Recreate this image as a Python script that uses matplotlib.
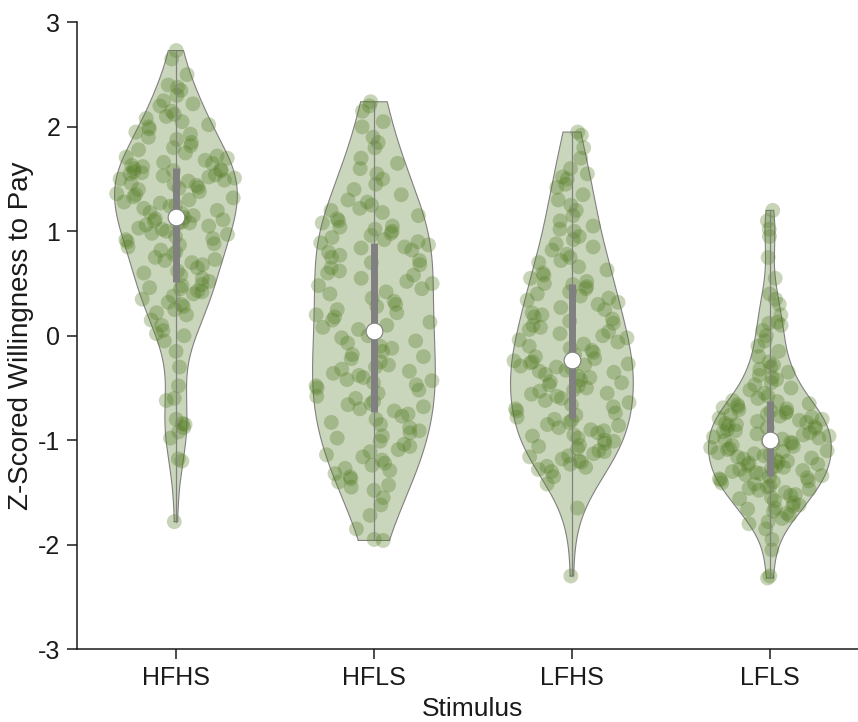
import numpy as np
import matplotlib.pyplot as plt

plt.rcParams['font.family'] = ['Liberation Sans', 'DejaVu Sans']
plt.rcParams['axes.unicode_minus'] = False

categories = ['HFHS', 'HFLS', 'LFHS', 'LFLS']

hfhs = [-1.78, -1.2, -1.18, -0.98, -0.92, -0.88, -0.85, -0.84, -0.8, -0.62, -0.6, -0.48,
        -0.3, -0.15, -0.05, 0.0, 0.02, 0.05, 0.1, 0.15, 0.2, 0.22, 0.25, 0.28, 0.3, 0.32,
        0.35, 0.38, 0.4, 0.42, 0.43, 0.45, 0.46, 0.48, 0.49,
        0.52, 0.55, 0.58, 0.6, 0.62, 0.65, 0.68, 0.7, 0.72, 0.73, 0.75, 0.78, 0.8, 0.82,
        0.85, 0.87, 0.88, 0.9, 0.92, 0.93, 0.95, 0.97, 0.98, 1.0, 1.02, 1.03, 1.05, 1.06,
        1.07, 1.08, 1.09, 1.1, 1.11, 1.12, 1.13,
        1.15, 1.17, 1.18, 1.2, 1.22, 1.24, 1.25, 1.27, 1.28, 1.3, 1.32, 1.33, 1.35, 1.36,
        1.38, 1.4, 1.41, 1.42, 1.44, 1.45, 1.46, 1.48, 1.49, 1.5, 1.51, 1.52, 1.53, 1.54,
        1.55, 1.56, 1.57, 1.58, 1.58, 1.59, 1.6,
        1.62, 1.63, 1.65, 1.66, 1.68, 1.7, 1.71, 1.72, 1.75, 1.78, 1.8, 1.82, 1.85, 1.88,
        1.9, 1.93, 1.95, 1.98, 2.0, 2.02, 2.05, 2.08, 2.1, 2.12, 2.15, 2.2, 2.22, 2.25,
        2.3, 2.35, 2.38, 2.4, 2.5, 2.65, 2.73]

hfls = [-1.96, -1.95, -1.85, -1.72, -1.62, -1.55, -1.48, -1.45, -1.43, -1.4, -1.37,
        -1.35, -1.32, -1.29, -1.27, -1.24, -1.22, -1.19, -1.16, -1.14, -1.11, -1.09, -1.06,
        -1.04, -1.01, -0.98, -0.96, -0.93, -0.91, -0.88, -0.85, -0.83, -0.8, -0.77, -0.75,
        -0.72, -0.7, -0.68, -0.66, -0.65, -0.63, -0.6, -0.58, -0.55, -0.52, -0.5, -0.48,
        -0.47, -0.45, -0.43, -0.42, -0.4, -0.38, -0.36, -0.34, -0.32, -0.3, -0.28, -0.25,
        -0.22, -0.2, -0.18, -0.15, -0.12, -0.1, -0.07, -0.05, -0.02, 0.0, 0.03,
        0.06, 0.08, 0.1, 0.13, 0.15, 0.18, 0.2, 0.22, 0.25, 0.28, 0.3, 0.33, 0.36, 0.4,
        0.42, 0.45, 0.48, 0.5, 0.52, 0.55, 0.58, 0.6, 0.62, 0.65, 0.68, 0.7, 0.72, 0.75,
        0.77, 0.8, 0.82, 0.84, 0.85, 0.87, 0.89,
        0.9, 0.92, 0.94, 0.96, 0.98, 1.0, 1.02, 1.04, 1.05, 1.08, 1.1, 1.12, 1.15, 1.18,
        1.2, 1.22, 1.25, 1.28, 1.3, 1.35, 1.4, 1.45, 1.5, 1.55, 1.6, 1.65, 1.7, 1.8, 1.85,
        1.9, 2.0, 2.05, 2.15, 2.2, 2.24]

lfhs = [-2.3, -1.65, -1.42, -1.35, -1.3, -1.28, -1.26, -1.25, -1.23, -1.21, -1.2, -1.18,
        -1.16, -1.15, -1.13, -1.11, -1.1, -1.08, -1.06, -1.05, -1.03, -1.01, -1.0, -0.98,
        -0.96, -0.95, -0.93, -0.91, -0.9, -0.88, -0.86, -0.85, -0.83, -0.81, -0.8,
        -0.78, -0.76, -0.74, -0.72, -0.7, -0.68, -0.66, -0.64, -0.62, -0.6, -0.58, -0.56,
        -0.55, -0.53, -0.52, -0.5, -0.48, -0.47, -0.45, -0.44, -0.42, -0.4, -0.39, -0.37,
        -0.35, -0.34, -0.33, -0.31, -0.3, -0.29, -0.28, -0.27, -0.26, -0.25, -0.24,
        -0.22, -0.2, -0.18, -0.16, -0.14, -0.12, -0.1, -0.08, -0.06, -0.04, -0.02, 0.0,
        0.02, 0.04, 0.06, 0.08, 0.1, 0.12, 0.14, 0.16, 0.18, 0.2, 0.22, 0.25, 0.27, 0.3,
        0.32, 0.34, 0.36, 0.38, 0.4, 0.42, 0.45, 0.47, 0.49,
        0.5, 0.52, 0.55, 0.58, 0.6, 0.63, 0.66, 0.7, 0.72, 0.75, 0.78, 0.82, 0.85, 0.88,
        0.92, 0.95, 1.0, 1.02, 1.05, 1.1, 1.15, 1.2, 1.25, 1.3, 1.35, 1.42, 1.45, 1.5,
        1.52, 1.55, 1.6, 1.7, 1.8, 1.92, 1.95]

lfls = [-2.32, -2.3, -2.05, -1.95, -1.85, -1.8, -1.78, -1.75, -1.72, -1.7, -1.68, -1.66,
        -1.65, -1.63, -1.62, -1.6, -1.58, -1.56, -1.55, -1.53, -1.52, -1.5, -1.48, -1.47,
        -1.46, -1.45, -1.44, -1.42, -1.41, -1.4, -1.39, -1.38, -1.37, -1.36, -1.35,
        -1.34, -1.33, -1.32, -1.31, -1.3, -1.29, -1.28, -1.27, -1.26, -1.25, -1.24, -1.23,
        -1.22, -1.21, -1.2, -1.19, -1.18, -1.17, -1.16, -1.15, -1.14, -1.13, -1.12, -1.11,
        -1.1, -1.09, -1.08, -1.07, -1.06, -1.05, -1.04, -1.03, -1.02, -1.01, -1.0,
        -0.99, -0.98, -0.97, -0.96, -0.95, -0.94, -0.93, -0.92, -0.91, -0.9, -0.89, -0.88,
        -0.87, -0.86, -0.85, -0.84, -0.83, -0.82, -0.81, -0.8, -0.79, -0.78, -0.77, -0.76,
        -0.75, -0.74, -0.73, -0.72, -0.71, -0.7, -0.69, -0.68, -0.66, -0.65, -0.63,
        -0.62, -0.6, -0.58, -0.55, -0.52, -0.5, -0.47, -0.45, -0.42, -0.4, -0.38, -0.35,
        -0.32, -0.3, -0.28, -0.25, -0.2, -0.15, -0.1, -0.05, 0.0, 0.05, 0.1, 0.12, 0.13,
        0.2, 0.3, 0.35, 0.4, 0.55, 0.75, 0.95, 1.02, 1.1, 1.2]

groups = [hfhs, hfls, lfhs, lfls]

green = (0.32, 0.48, 0.13)
gray = (0.5, 0.5, 0.5)
half_width = 0.31


def kde(data, grid):
    # gaussian kernel, normal-approximation bandwidth
    n = len(data)
    sig = np.median(np.abs(data - np.median(data))) / 0.6745
    bw = sig * (4 / (3 * n)) ** 0.2
    z = (grid[:, None] - data[None, :]) / bw
    return np.exp(-0.5 * z ** 2).sum(axis=1) / (n * bw * np.sqrt(2 * np.pi))


fig = plt.figure(figsize=(8.58, 7.22), dpi=100)
ax = fig.add_axes([0.0897, 0.101, 0.923, 0.868])

for k, vals in enumerate(groups):
    pos = k + 1
    d = np.asarray(vals, dtype=float)
    grid = np.linspace(d.min(), d.max(), 300)
    dens = kde(d, grid)
    w = dens / dens.max() * half_width

    ax.fill_betweenx(grid, pos - w, pos + w, facecolor=green, alpha=0.3,
                     edgecolor='none', zorder=1)
    xs = np.concatenate([pos - w, (pos + w)[::-1], [pos - w[0]]])
    ys = np.concatenate([grid, grid[::-1], [grid[0]]])
    ax.plot(xs, ys, color=gray, lw=0.8, zorder=2)

    # spread points sideways within the local violin width (quadratic Weyl sequence)
    idx = np.arange(len(d)) + 7 * k
    order = (idx * idx * np.sqrt(2) + idx * 0.5) % 1.0
    spread = np.interp(d, grid, w)
    ax.scatter(pos + (2 * order - 1) * spread, d, s=115, color=green, alpha=0.32,
               edgecolors='none', zorder=3)

    q1, med, q3 = np.percentile(d, [25, 50, 75])
    ax.plot([pos, pos], [d.min(), d.max()], color=gray, lw=0.9, zorder=4)
    ax.plot([pos, pos], [q1, q3], color=gray, lw=5, solid_capstyle='butt', zorder=5)
    ax.plot(pos, med, 'o', ms=12, mfc='white', mec=gray, mew=0.8, zorder=6)

ax.set_xlim(0.5, 4.5)
ax.set_ylim(-3, 3)
ax.set_xticks(range(1, 5))
ax.set_xticklabels(categories)
ax.set_yticks(range(-3, 4))
for s in ['top', 'right']:
    ax.spines[s].set_visible(False)
for s in ['left', 'bottom']:
    ax.spines[s].set_linewidth(1.1)
    ax.spines[s].set_color('#1a1a1a')
ax.tick_params(direction='out', length=7, width=1.1, labelsize=18, pad=5,
               colors='#1a1a1a')
ax.set_xlabel('Stimulus', fontsize=19, labelpad=5, color='#1a1a1a')
ax.set_ylabel('Z-Scored Willingness to Pay', fontsize=20, labelpad=3, color='#1a1a1a')

fig.savefig('out.png', dpi=100)
